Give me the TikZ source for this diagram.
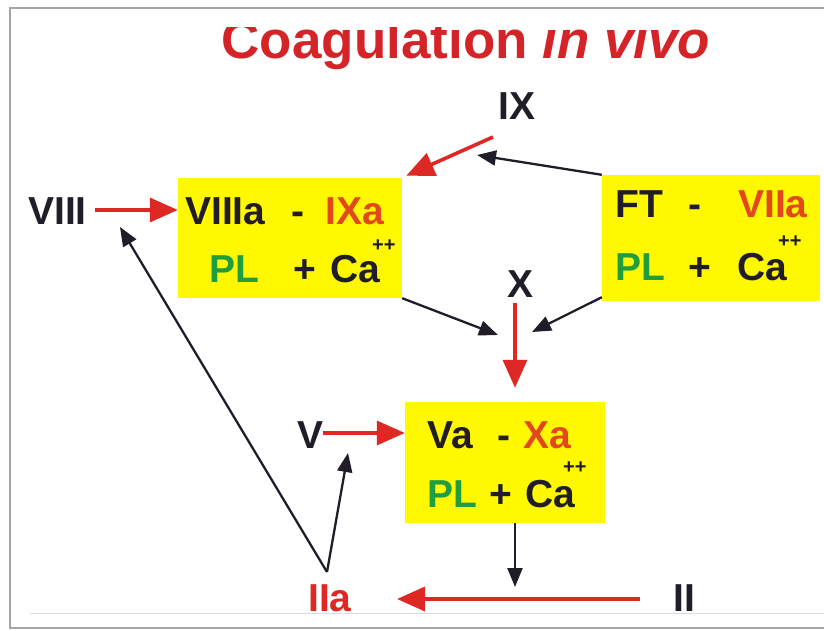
\documentclass[tikz,border=0pt]{standalone}
\usepackage{fontspec}
\setmainfont{Liberation Sans}
\usetikzlibrary{arrows.meta,calc}
\definecolor{txt}{RGB}{32,28,40}
\definecolor{rtxt}{RGB}{226,72,28}
\definecolor{grn}{RGB}{32,158,62}
\definecolor{ttl}{RGB}{212,36,40}
\definecolor{ared}{RGB}{222,40,36}
\definecolor{ylw}{RGB}{255,248,0}
\definecolor{frm}{RGB}{165,165,165}
\newcommand\labfont{\fontsize{39}{40}\selectfont\bfseries}
\newcommand\supfont{\fontsize{20}{20}\selectfont\bfseries}
\begin{document}
\begin{tikzpicture}[x=1pt,y=-1pt,
  lbl/.style={inner sep=0pt, anchor=base west, font=\labfont, text=txt},
  sup/.style={inner sep=0pt, anchor=west, font=\supfont, text=txt},
  ybox/.style={fill=ylw, draw=none, inner sep=0pt},
  redarr/.style={draw=ared, line width=3.6pt, -{Triangle[length=28pt,width=24pt]}},
  blkarr/.style={draw=txt, line width=2.3pt, -{Triangle[length=19pt,width=15pt]}}]
\useasboundingbox (0,0) rectangle (824,631);
\fill[white] (0,0) rectangle (824,631);
% frame
\draw[frm, line width=1.8pt] (824,8) -- (10,8) -- (10,628) -- (824,628);
% title (top clipped)
\begin{scope}
\clip (0,28) rectangle (824,90);
\node[inner sep=0pt, anchor=base, font=\fontsize{53}{54}\selectfont\bfseries, text=ttl] (title) at (466,59) {Coagulation \textit{in vivo}};
\end{scope}
% boxes
\node[ybox, minimum width=224pt, minimum height=120pt] (box1) at (290,238) {};
\node[ybox, minimum width=218pt, minimum height=126pt] (box2) at (711,238) {};
\node[ybox, minimum width=200pt, minimum height=121pt] (box3) at (505,462.5) {};
% box1 texts
\node[lbl] (b1a) at (185,224) {VIIIa};
\node[lbl] (b1b) at (291,224) {-};
\node[lbl, text=rtxt] (b1c) at (325,224) {IXa};
\node[lbl, text=grn] (b1d) at (209,282) {PL};
\node[lbl] (b1e) at (293,282) {+};
\node[lbl] (b1f) at (330,282) {Ca};
\node[sup] (b1g) at (372,246) {++};
% box2 texts
\node[lbl] (b2a) at (615,218) {FT};
\node[lbl] (b2b) at (688,218) {-};
\node[lbl, text=rtxt] (b2c) at (738,218) {VIIa};
\node[lbl, text=grn] (b2d) at (615,280) {PL};
\node[lbl] (b2e) at (688,280) {+};
\node[lbl] (b2f) at (737,280) {Ca};
\node[sup] (b2g) at (778,242) {++};
% box3 texts
\node[lbl] (b3a) at (427,448) {Va};
\node[lbl] (b3b) at (497,448) {-};
\node[lbl, text=rtxt] (b3c) at (523,448) {Xa};
\node[lbl, text=grn] (b3d) at (427,507) {PL};
\node[lbl] (b3e) at (489,507) {+};
\node[lbl] (b3f) at (525,507) {Ca};
\node[sup] (b3g) at (563,468) {++};
% outside labels
\node[lbl] (viii) at (28,224) {VIII};
\node[lbl] (ix) at (498,120) {IX};
\node[lbl] (xl) at (507,297) {X};
\node[lbl] (vl) at (297,448) {V};
\node[lbl, text=ared] (iia) at (308,611) {IIa};
\node[lbl] (ii) at (673,611) {II};
% free-end coordinates
\coordinate (viiiout) at (95,210);
\coordinate (ixout) at (493,137);
\coordinate (ixin) at (477,155);
\coordinate (xin1) at (498,335);
\coordinate (xin2) at (532,332);
\coordinate (xout) at (515,303);
\coordinate (vout) at (323,433);
\coordinate (vin) at (348,453);
\coordinate (iiaup) at (327,572);
\coordinate (viiiin) at (120,227);
\coordinate (iiout) at (640,599);
\coordinate (iiain) at (397,599);
\coordinate (joint) at (515,599);
% connectors
\draw[redarr] (viiiout) -- (viiiout -| box1.west);
\draw[redarr] (ixout) -- ($(box1.north east)+(4,-2)$);
\draw[blkarr] (box2.north west) -- (ixin);
\draw[blkarr] (box1.south east) -- (xin1);
\draw[blkarr] ($(box2.south west)+(0,-4)$) -- (xin2);
\draw[redarr] (xout) -- ($(xout |- box3.north)+(0,-14)$);
\draw[redarr] (vout) -- (vout -| box3.west);
\draw[blkarr] (iiaup) -- (vin);
\draw[blkarr] (iiaup) -- (viiiin);
\draw[blkarr] (box3.south -| joint) -- ($(joint)+(0,-12)$);
\draw[redarr] (iiout) -- (iiain);
% bottom white band and thin line
\fill[white] (12,613) rectangle (824,627);
\draw[black!14, line width=1pt] (30,613) -- (824,613);
\end{tikzpicture}
\end{document}
